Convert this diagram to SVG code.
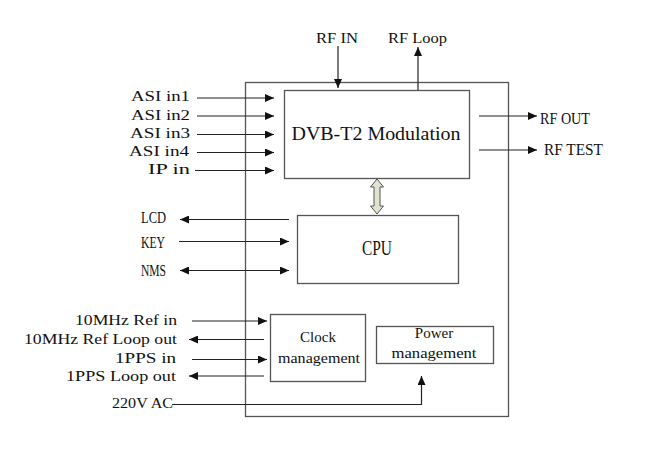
<svg xmlns="http://www.w3.org/2000/svg" width="659" height="456" viewBox="0 0 659 456">
<style>
.box{fill:#fff;stroke:#555;stroke-width:1.3}
.ln{fill:none;stroke:#222;stroke-width:1.2}
.t{font-family:"Liberation Serif",serif;font-size:15px;fill:#111}
.tp{font-family:"Liberation Serif",serif;fill:#111}
</style>
<defs>
<marker id="ah" markerUnits="userSpaceOnUse" markerWidth="10" markerHeight="8" refX="9" refY="4" orient="auto-start-reverse">
<path d="M0,0 L9,4 L0,8 Z" fill="#111"/>
</marker>
</defs>
<rect width="659" height="456" fill="#fff"/>
<g id="outer"><rect class="box" x="245.5" y="82.5" width="263" height="334"/></g>
<g id="dvb"><rect class="box" x="284.5" y="90.5" width="185" height="88"/>
<text class="t" x="291.5" y="140" style="font-size:19px" textLength="169" lengthAdjust="spacingAndGlyphs">DVB-T2 Modulation</text></g>
<g id="cpu"><rect class="box" x="297.5" y="215.5" width="161" height="68"/>
<text class="tp" x="362" y="255" style="font-size:20px" textLength="30" lengthAdjust="spacingAndGlyphs">CPU</text></g>
<g id="clock"><rect class="box" x="270.5" y="314.5" width="95" height="67"/>
<text class="t" x="318" y="342" text-anchor="middle">Clock</text>
<text class="t" x="278" y="363" textLength="82" lengthAdjust="spacingAndGlyphs">management</text></g>
<g id="power"><rect class="box" x="376.5" y="326.5" width="117" height="37"/>
<text class="t" x="434" y="338" text-anchor="middle">Power</text>
<text class="t" x="391.5" y="358" textLength="85" lengthAdjust="spacingAndGlyphs">management</text></g>
<g id="labels">
<text class="t" x="316" y="43" textLength="42" lengthAdjust="spacingAndGlyphs">RF IN</text>
<text class="t" x="388" y="43" textLength="59" lengthAdjust="spacingAndGlyphs">RF Loop</text>
<text class="t" x="131" y="101" textLength="59" lengthAdjust="spacingAndGlyphs">ASI in1</text>
<text class="t" x="131" y="120" textLength="59" lengthAdjust="spacingAndGlyphs">ASI in2</text>
<text class="t" x="130" y="138" textLength="60" lengthAdjust="spacingAndGlyphs">ASI in3</text>
<text class="t" x="129" y="156" textLength="60" lengthAdjust="spacingAndGlyphs">ASI in4</text>
<text class="t" x="148" y="174" textLength="42" lengthAdjust="spacingAndGlyphs">IP in</text>
<text class="tp" x="540" y="124" style="font-size:16px" textLength="50" lengthAdjust="spacingAndGlyphs">RF OUT</text>
<text class="tp" x="544" y="155" style="font-size:16px" textLength="59" lengthAdjust="spacingAndGlyphs">RF TEST</text>
<text class="tp" x="141" y="222.5" style="font-size:16px" textLength="25" lengthAdjust="spacingAndGlyphs">LCD</text>
<text class="tp" x="141" y="247.5" style="font-size:16px" textLength="24" lengthAdjust="spacingAndGlyphs">KEY</text>
<text class="tp" x="141" y="275.5" style="font-size:16px" textLength="25" lengthAdjust="spacingAndGlyphs">NMS</text>
<text class="t" x="75" y="325" textLength="102" lengthAdjust="spacingAndGlyphs">10MHz Ref in</text>
<text class="t" x="24" y="344" textLength="153" lengthAdjust="spacingAndGlyphs">10MHz Ref Loop out</text>
<text class="t" x="115" y="363" textLength="61" lengthAdjust="spacingAndGlyphs">1PPS in</text>
<text class="t" x="66" y="381" textLength="110" lengthAdjust="spacingAndGlyphs">1PPS Loop out</text>
<text class="t" x="112" y="408" textLength="61" lengthAdjust="spacingAndGlyphs">220V AC</text>
</g>
<g id="connectors">
<line class="ln" x1="338" y1="46" x2="338" y2="88" marker-end="url(#ah)"/>
<line class="ln" x1="418" y1="90" x2="418" y2="47" marker-end="url(#ah)"/>
<line class="ln" x1="197" y1="98" x2="274" y2="98" marker-end="url(#ah)"/>
<line class="ln" x1="197" y1="116" x2="274" y2="116" marker-end="url(#ah)"/>
<line class="ln" x1="197" y1="134.5" x2="274" y2="134.5" marker-end="url(#ah)"/>
<line class="ln" x1="197" y1="152.5" x2="274" y2="152.5" marker-end="url(#ah)"/>
<line class="ln" x1="195" y1="170.5" x2="274" y2="170.5" marker-end="url(#ah)"/>
<line class="ln" x1="479" y1="116" x2="537" y2="116" marker-end="url(#ah)"/>
<line class="ln" x1="479" y1="150" x2="537" y2="150" marker-end="url(#ah)"/>
<polygon points="377,179 383.5,187 380,187 380,206 383.5,206 377,214 370.5,206 374,206 374,187 370.5,187" fill="#e2e2d2" stroke="#555" stroke-width="1"/>
<line class="ln" x1="289" y1="219.5" x2="180" y2="219.5" marker-end="url(#ah)"/>
<line class="ln" x1="179" y1="241.5" x2="289" y2="241.5" marker-end="url(#ah)"/>
<line class="ln" x1="180" y1="270.5" x2="289" y2="270.5" marker-start="url(#ah)" marker-end="url(#ah)"/>
<line class="ln" x1="192" y1="321" x2="267" y2="321" marker-end="url(#ah)"/>
<line class="ln" x1="264" y1="339.5" x2="189" y2="339.5" marker-end="url(#ah)"/>
<line class="ln" x1="192" y1="359.5" x2="267" y2="359.5" marker-end="url(#ah)"/>
<line class="ln" x1="264" y1="376" x2="189" y2="376" marker-end="url(#ah)"/>
<polyline class="ln" points="172,404.5 421.5,404.5 421.5,376" marker-end="url(#ah)"/>
</g>
</svg>
